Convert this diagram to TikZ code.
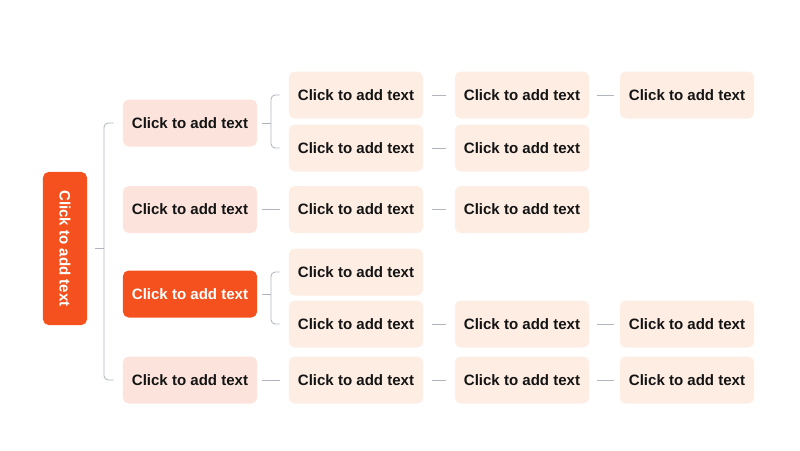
\documentclass[tikz,border=0pt]{standalone}
\usepackage{fontspec}
\setmainfont{Liberation Sans}
\usetikzlibrary{calc}
\definecolor{mainorange}{HTML}{F4511E}
\definecolor{subpink}{HTML}{FCE4DC}
\definecolor{leafpeach}{HTML}{FDEDE3}
\definecolor{linegray}{HTML}{B0B4BD}
\tikzset{
  box/.style={shape=rectangle, rounded corners=4pt, minimum width=3.35cm, minimum height=1.175cm, inner sep=0pt, font=\fontsize{10.7}{12}\selectfont\bfseries, text=black!92},
  leaf/.style={box, fill=leafpeach},
  branch/.style={box, fill=subpink},
  hot/.style={box, fill=mainorange, text=white},
  link/.style={draw=linegray, line width=0.6pt}
}

\begin{document}
\begin{tikzpicture}[x=0.025cm,y=-0.025cm]
        \useasboundingbox (0,0) rectangle (800,450);
        % root (turned, so its north side faces right)
        \node[hot, rotate=-90, minimum width=3.825cm, minimum height=1.1cm] (root) at (65,248.5) {Click to add text};

        % level 1
        \node[branch] (l1a) at (190,123) {Click to add text};
        \node[branch] (l1b) at (190,209.5) {Click to add text};
        \node[hot]    (l1c) at (190,294) {Click to add text};
        \node[branch] (l1d) at (190,380) {Click to add text};

        % level 2
        \node[leaf] (l2a) at (356,95)  {Click to add text};
        \node[leaf] (l2b) at (356,148) {Click to add text};
        \node[leaf] (l2c) at (356,209.5) {Click to add text};
        \node[leaf] (l2d) at (356,272) {Click to add text};
        \node[leaf] (l2e) at (356,324) {Click to add text};
        \node[leaf] (l2f) at (356,380) {Click to add text};

        % level 3
        \node[leaf] (l3a) at (522,95)  {Click to add text};
        \node[leaf] (l3b) at (522,148) {Click to add text};
        \node[leaf] (l3c) at (522,209.5) {Click to add text};
        \node[leaf] (l3e) at (522,324) {Click to add text};
        \node[leaf] (l3f) at (522,380) {Click to add text};

        % level 4
        \node[leaf] (l4a) at (687,95)  {Click to add text};
        \node[leaf] (l4e) at (687,324) {Click to add text};
        \node[leaf] (l4f) at (687,380) {Click to add text};

        % root bracket
        \coordinate (rj) at (104,248.5);
        \draw[link] ($(root.north)+(8,0)$) -- (rj);
        \draw[link, rounded corners=3pt] ($(l1a.west)+(-9,0)$) -| (rj) |- ($(l1d.west)+(-9,0)$);

        % level 1 brackets
        \coordinate (ja) at (271,123);
        \draw[link] ($(l1a.east)+(5,0)$) -- (ja);
        \draw[link, rounded corners=3pt] ($(l2a.west)+(-9,0)$) -| (ja) |- ($(l2b.west)+(-9,0)$);
        \coordinate (jc) at (271,294);
        \draw[link] ($(l1c.east)+(5,0)$) -- (jc);
        \draw[link, rounded corners=3pt] ($(l2d.west)+(-9,0)$) -| (jc) |- ($(l2e.west)+(-9,0)$);
        \draw[link] ($(l1b.east)+(5,0)$) -- ($(l2c.west)+(-9,0)$);
        \draw[link] ($(l1d.east)+(5,0)$) -- ($(l2f.west)+(-9,0)$);

        % short links
        \foreach \a/\b in {l2a/l3a, l2b/l3b, l2c/l3c, l2e/l3e, l2f/l3f}
            \draw[link] ($(\a.east)+(9,0)$) -- ($(\b.west)+(-9,0)$);
        \foreach \a/\b in {l3a/l4a, l3e/l4e, l3f/l4f}
            \draw[link] ($(\a.east)+(8,0)$) -- ($(\b.west)+(-6,0)$);
    \end{tikzpicture}
\end{document}
